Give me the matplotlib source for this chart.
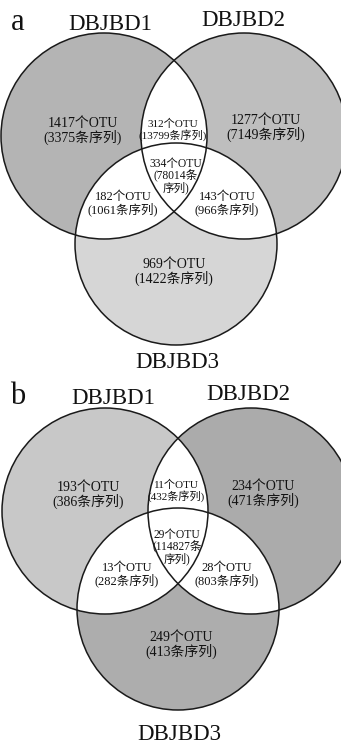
import matplotlib

matplotlib.use("Agg")
import matplotlib.pyplot as plt
from matplotlib.patches import Circle

FONT = ["Liberation Serif", "Noto Sans CJK SC"]

set_names = ["DBJBD1", "DBJBD2", "DBJBD3"]
# region order: only 1, only 2, only 3, 1&2, 1&3, 2&3, 1&2&3
regions = ["1", "2", "3", "12", "13", "23", "123"]
otu_a = [1417, 1277, 969, 312, 182, 143, 334]
seq_a = [3375, 7149, 1422, 13799, 1061, 966, 78014]
otu_b = [193, 234, 249, 11, 13, 28, 29]
seq_b = [386, 471, 413, 432, 282, 803, 114827]
colors_a = ["#b4b4b4", "#bebebe", "#d6d6d6"]
colors_b = ["#c8c8c8", "#ababab", "#adadad"]


def draw_venn(ax, letter, centers, radii, colors, otu, seq, spots, title_pos):
    for (c, r), color in zip(zip(centers, radii), colors):
        ax.add_patch(Circle(c, r, facecolor=color, edgecolor="none", zorder=1))
    # overlaps are left white
    for i in range(3):
        for j in range(3):
            if i == j:
                continue
            clip = Circle(centers[j], radii[j], transform=ax.transData)
            p = Circle(centers[i], radii[i], facecolor="white", edgecolor="none", zorder=2)
            ax.add_patch(p)
            p.set_clip_path(clip)
    for c, r in zip(centers, radii):
        ax.add_patch(Circle(c, r, facecolor="none", edgecolor="#1a1a1a", lw=1.1, zorder=3))

    for key, n, s in zip(regions, otu, seq):
        x, y, size, split = spots[key]
        if split:
            text = f"{n}个OTU\n({s}条\n序列)"
        else:
            text = f"{n}个OTU\n({s}条序列)"
        ax.text(x, y, text, ha="center", va="center", fontsize=size, family=FONT,
                linespacing=0.95, zorder=4, color="#111111")

    for name, (x, y) in zip(set_names, title_pos):
        ax.text(x, y, name, ha="center", va="center", fontsize=16.5, family=FONT, color="#111111")
    ax.text(18, title_pos[0][1] - 3, letter, ha="center", va="center", fontsize=22,
            family=FONT, color="#111111")


fig = plt.figure(figsize=(3.41, 7.44), dpi=100)
ax = fig.add_axes([0, 0, 1, 1])
ax.set_xlim(0, 341)
ax.set_ylim(744, 0)
ax.axis("off")

spots_a = {
    "1": (83, 131, 10, False),
    "2": (266, 128, 10, False),
    "3": (174, 272, 10, False),
    "12": (173, 130, 8, False),
    "13": (123, 204, 9, False),
    "23": (227, 204, 9, False),
    "123": (176, 176, 8.3, True),
}
draw_venn(ax, "a",
          [(104, 136), (244, 136), (176, 244)], [103, 103, 101],
          colors_a, otu_a, seq_a, spots_a,
          [(110, 25), (243, 20), (177, 362)])

spots_b = {
    "1": (88, 495, 10, False),
    "2": (263, 494, 10, False),
    "3": (181, 645, 10, False),
    "12": (176, 491, 8, False),
    "13": (127, 575, 9, False),
    "23": (227, 575, 9, False),
    "123": (177, 547, 8.3, True),
}
draw_venn(ax, "b",
          [(105, 511), (251, 511), (178, 609)], [103, 103, 101],
          colors_b, otu_b, seq_b, spots_b,
          [(113, 399), (248, 395), (179, 734)])

fig.savefig("out.png", dpi=100)
plt.close(fig)
